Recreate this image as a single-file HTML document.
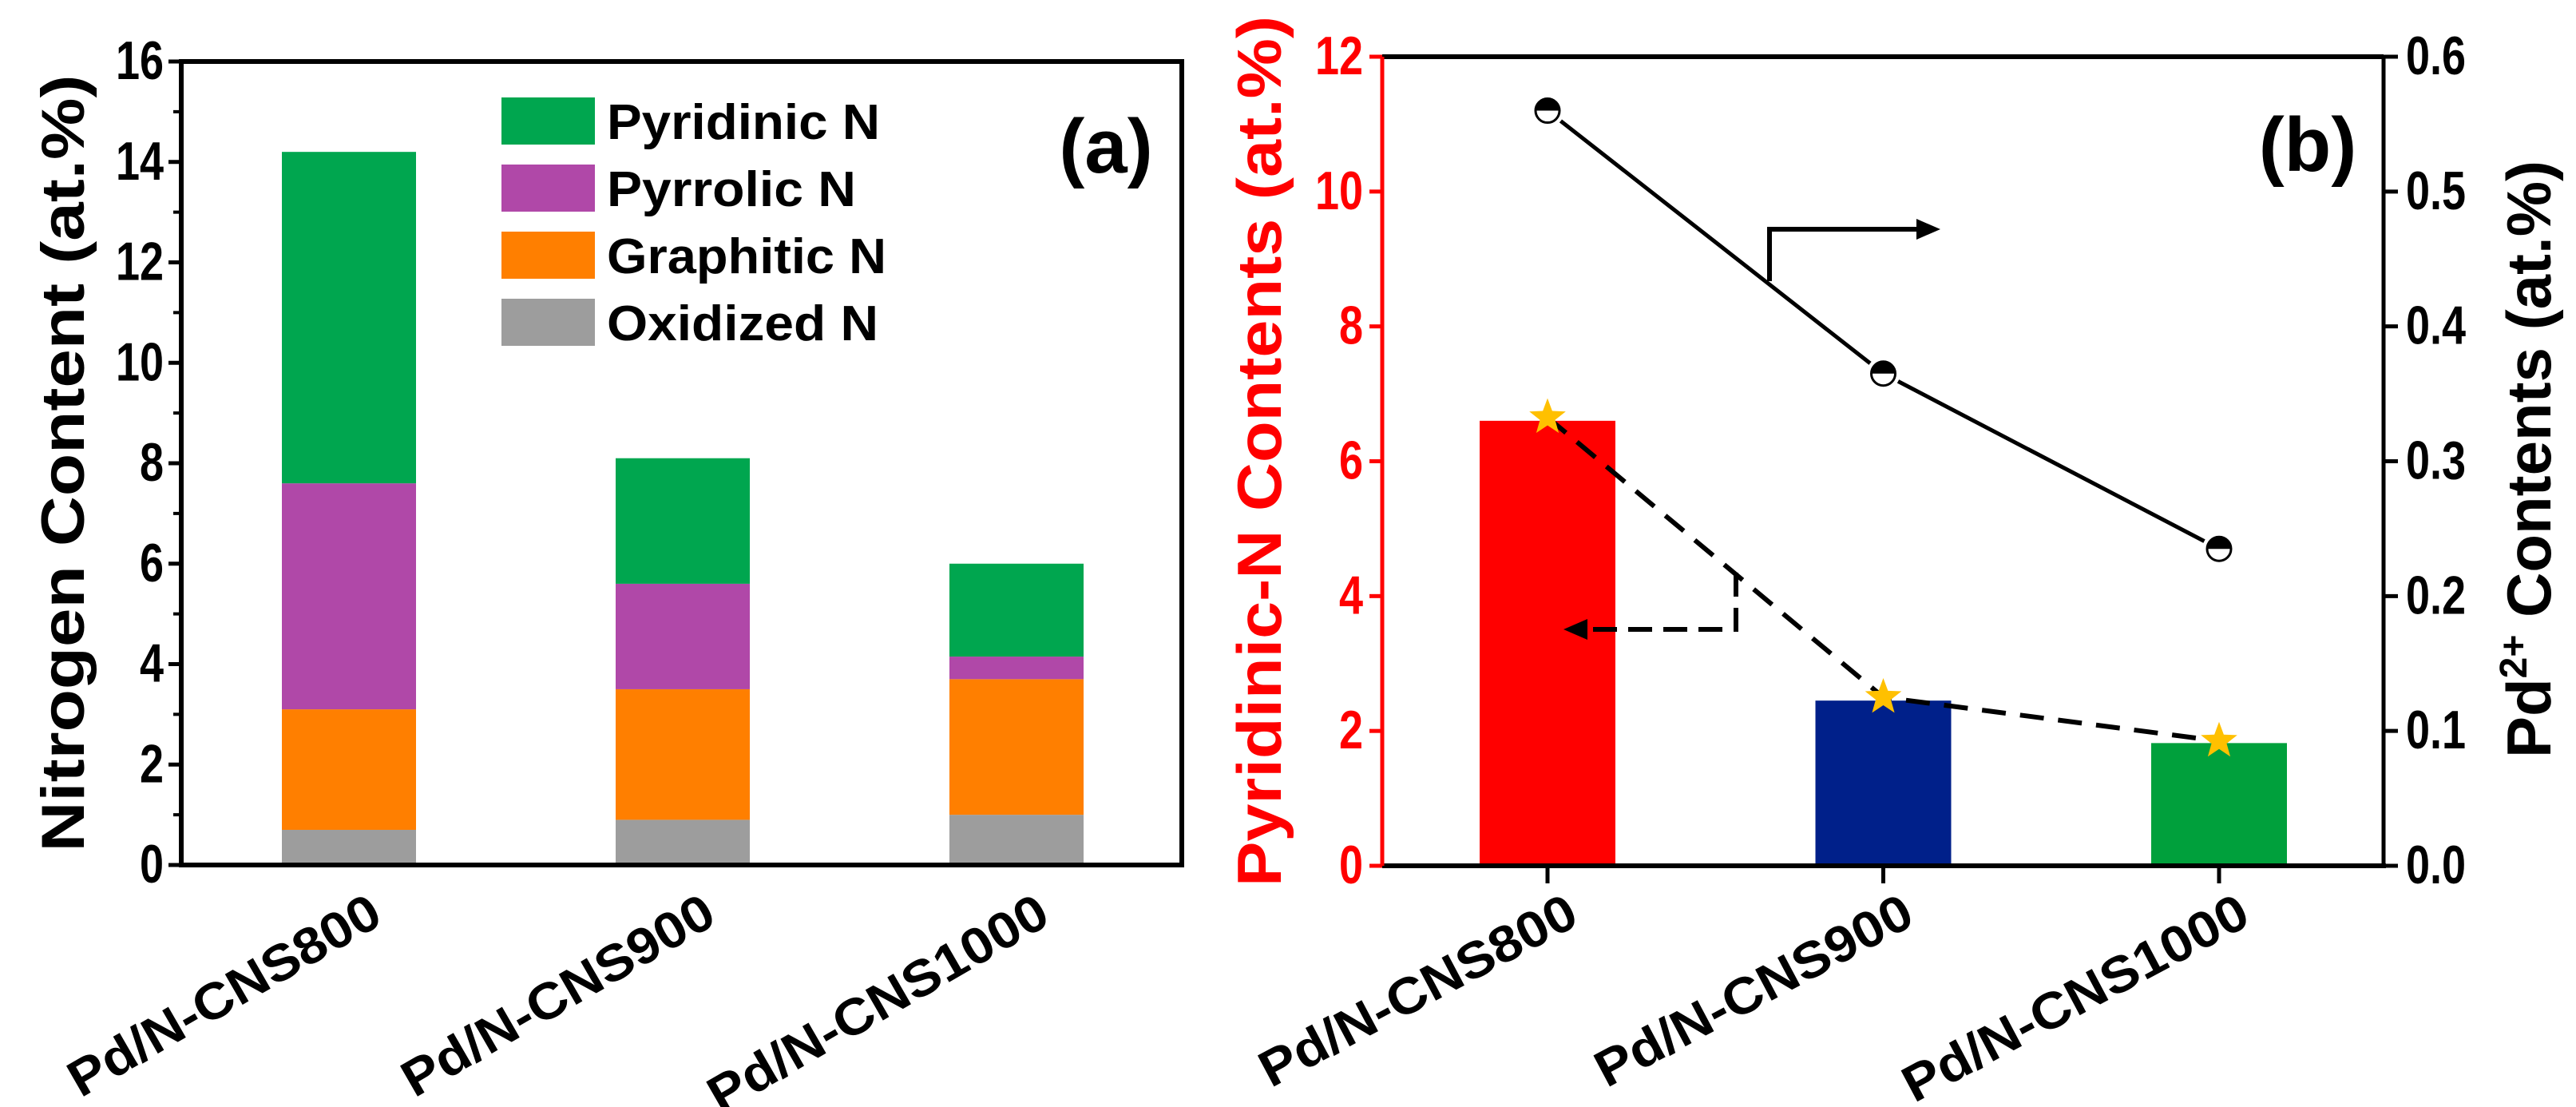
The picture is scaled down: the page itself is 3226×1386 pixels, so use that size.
<!DOCTYPE html>
<html><head><meta charset="utf-8"><style>
html,body{margin:0;padding:0;background:#fff;}
svg{display:block;font-family:"Liberation Sans",Arial,sans-serif;font-weight:bold;}
</style></head><body>
<svg id="chart" width="3226" height="1386" viewBox="0 0 3226 1386" xmlns="http://www.w3.org/2000/svg">
<g id="pa"></g>
<g id="pb"></g>
</svg>
<script>
const categories = ["Pd/N-CNS800","Pd/N-CNS900","Pd/N-CNS1000"];
const seriesNames = ["Oxidized N","Graphitic N","Pyrrolic N","Pyridinic N"];
const oxidized = [0.7, 0.9, 1.0];
const graphitic = [2.4, 2.6, 2.7];
const pyrrolic = [4.5, 2.1, 0.45];
const pyridinic = [6.6, 2.5, 1.85];
const aTicks = [0,2,4,6,8,10,12,14,16];
const pyridinicB = [6.6, 2.45, 1.82];
const starVals = [6.65, 2.5, 1.85];
const pd2 = [0.56, 0.365, 0.235];
const bLeftTicks = [0,2,4,6,8,10,12];
const bRightTicks = ["0.0","0.1","0.2","0.3","0.4","0.5","0.6"];

const NS="http://www.w3.org/2000/svg";
function mk(parent, tag, attrs, text){
  const e=document.createElementNS(NS,tag);
  for(const k in attrs) e.setAttribute(k, attrs[k]);
  if(text!==undefined) e.textContent=text;
  parent.appendChild(e); return e;
}
const pa=document.getElementById('pa');
const pb=document.getElementById('pb');
const labLen=c=>c.length>11?480:440;

// ---------- Panel A ----------
const A={l:227,r:1480,t:77,b:1083,ymax:16};
const ax=i=>437+418*i;
const ay=v=>A.b-(A.b-A.t)*v/A.ymax;
const colors={"Oxidized N":"#9d9d9d","Graphitic N":"#ff7f00","Pyrrolic N":"#b048a8","Pyridinic N":"#00a64f"};
const stacks=[oxidized,graphitic,pyrrolic,pyridinic];
categories.forEach((c,i)=>{
  let base=0;
  stacks.forEach((arr,s)=>{
    const v=arr[i];
    const r=mk(pa,'rect',{x:ax(i)-84,y:ay(base+v),width:168,height:ay(base)-ay(base+v),fill:colors[seriesNames[s]]});
    
    
    base+=v;
  });
  const t=mk(pa,'text',{x:0,y:0,'font-size':64,'text-anchor':'end',textLength:labLen(c),lengthAdjust:'spacingAndGlyphs',transform:`translate(${ax(i)+45},${A.b+72}) rotate(-30)`},c);
  
  
});
const fa=mk(pa,'rect',{x:A.l,y:A.t,width:A.r-A.l,height:A.b-A.t,fill:'none',stroke:'#000','stroke-width':6});


aTicks.forEach(v=>{
  mk(pa,'line',{x1:A.l-16,x2:A.l,y1:ay(v),y2:ay(v),stroke:'#000','stroke-width':5});
  if(v<16) mk(pa,'line',{x1:A.l-10,x2:A.l,y1:ay(v+1),y2:ay(v+1),stroke:'#000','stroke-width':4});
  const t=mk(pa,'text',{x:0,y:0,'font-size':54,'text-anchor':'end',transform:`translate(${A.l-22},${ay(v)+22}) scale(1,1.25)`},String(v));
  
  
});
const yl=mk(pa,'text',{x:0,y:0,'font-size':76,'text-anchor':'middle',textLength:973,lengthAdjust:'spacingAndGlyphs',transform:`translate(105,${(A.t+A.b)/2}) rotate(-90)`},"Nitrogen Content (at.%)");


const legOrder=["Pyridinic N","Pyrrolic N","Graphitic N","Oxidized N"];
const legLen={"Pyridinic N":342,"Pyrrolic N":312,"Graphitic N":350,"Oxidized N":340};
legOrder.forEach((n,k)=>{
  const y=122+84*k;
  const g=mk(pa,'g',{});
  
  
  mk(g,'rect',{x:628,y:y,width:117,height:59,fill:colors[n]});
  mk(g,'text',{x:760,y:y+52,'font-size':62,textLength:legLen[n],lengthAdjust:'spacingAndGlyphs'},n);
});
const la=mk(pa,'text',{x:1385,y:216,'font-size':96,'text-anchor':'middle'},"(a)");



// ---------- Panel B ----------
const B={l:1731,r:2985,t:71,b:1084};
const bx=i=>1938+420.5*i;
const byL=v=>B.b-(B.b-B.t)*v/12;
const byR=v=>B.b-(B.b-B.t)*v/0.6;
const barColors=["#ff0000","#00208a","#00a03c"];
categories.forEach((c,i)=>{
  const r=mk(pb,'rect',{x:bx(i)-85,y:byL(pyridinicB[i]),width:170,height:B.b-byL(pyridinicB[i]),fill:barColors[i]});
  
  
  mk(pb,'line',{x1:bx(i),x2:bx(i),y1:B.b,y2:B.b+22,stroke:'#000','stroke-width':5});
  const t=mk(pb,'text',{x:0,y:0,'font-size':64,'text-anchor':'end',textLength:labLen(c),lengthAdjust:'spacingAndGlyphs',transform:`translate(${bx(i)+42},${B.b+72}) rotate(-28)`},c);
  
  
});
mk(pb,'line',{x1:B.l,x2:B.r,y1:B.t,y2:B.t,stroke:'#000','stroke-width':6});
mk(pb,'line',{x1:B.l,x2:B.r+3,y1:B.b,y2:B.b,stroke:'#000','stroke-width':6});
const rax=mk(pb,'line',{x1:B.r,x2:B.r,y1:B.t,y2:B.b,stroke:'#000','stroke-width':5});


const lax=mk(pb,'line',{x1:B.l,x2:B.l,y1:B.t,y2:B.b,stroke:'#ff0000','stroke-width':5});


bLeftTicks.forEach(v=>{
  mk(pb,'line',{x1:B.l-16,x2:B.l,y1:byL(v),y2:byL(v),stroke:'#ff0000','stroke-width':5});
  const t=mk(pb,'text',{x:0,y:0,'font-size':54,'text-anchor':'end',fill:'#ff0000',transform:`translate(${B.l-24},${byL(v)+22}) scale(1,1.25)`},String(v));
  
  
});
bRightTicks.forEach(s=>{
  const v=parseFloat(s);
  mk(pb,'line',{x1:B.r,x2:B.r+18,y1:byR(v),y2:byR(v),stroke:'#000','stroke-width':5});
  const t=mk(pb,'text',{x:0,y:0,'font-size':54,transform:`translate(${B.r+28},${byR(v)+22}) scale(1,1.25)`},s);
  
  
});
const ylb=mk(pb,'text',{x:0,y:0,'font-size':78,'text-anchor':'middle',fill:'#ff0000',textLength:1090,lengthAdjust:'spacingAndGlyphs',transform:`translate(1604,565) rotate(-90)`},"Pyridinic-N Contents (at.%)");


const yrb=mk(pb,'text',{x:0,y:0,'font-size':78,'text-anchor':'middle',transform:`translate(3194,575) rotate(-90)`});


mk(yrb,'tspan',{},"Pd");
mk(yrb,'tspan',{'font-size':48,dy:-30},"2+");
mk(yrb,'tspan',{dy:30}," Contents (at.%)");
let dpts=starVals.map((v,i)=>bx(i)+','+byL(v)).join(' ');
const dl=mk(pb,'polyline',{points:dpts,fill:'none',stroke:'#000','stroke-width':6,'stroke-dasharray':'30,18'});


let spts=pd2.map((v,i)=>bx(i)+','+byR(v)).join(' ');
const sl=mk(pb,'polyline',{points:spts,fill:'none',stroke:'#000','stroke-width':5});


pd2.forEach((v,i)=>{
  const cx=bx(i), cy=byR(v);
  const g=mk(pb,'g',{});
  
  
  mk(g,'circle',{cx:cx,cy:cy,r:21,fill:'#fff'});
  mk(g,'path',{d:`M${cx-15},${cy} A15,15 0 0 1 ${cx+15},${cy} Z`,fill:'#000'});
  mk(g,'circle',{cx:cx,cy:cy,r:15,fill:'none',stroke:'#000','stroke-width':3});
});
starVals.forEach((v,i)=>{
  const cx=bx(i), cy=byL(v);
  let p=[];
  for(let k=0;k<10;k++){const a=-Math.PI/2+k*Math.PI/5;const rr=k%2?10:24;p.push((cx+rr*Math.cos(a)).toFixed(1)+','+(cy+rr*Math.sin(a)).toFixed(1));}
  const s=mk(pb,'polygon',{points:p.join(' '),fill:'#ffc000'});
  
  
});
const a1=mk(pb,'g',{});


mk(a1,'polyline',{points:'2216,352 2216,287 2405,287',fill:'none',stroke:'#000','stroke-width':6});
mk(a1,'polygon',{points:'2400,274 2430,287 2400,300',fill:'#000'});
const a2=mk(pb,'g',{});


mk(a2,'polyline',{points:'2174,717 2174,788 1985,788',fill:'none',stroke:'#000','stroke-width':6,'stroke-dasharray':'30,14'});
mk(a2,'polygon',{points:'1988,775 1958,788 1988,801',fill:'#000'});
const lb=mk(pb,'text',{x:2890,y:214,'font-size':96,'text-anchor':'middle'},"(b)");


</script>
</body></html>
